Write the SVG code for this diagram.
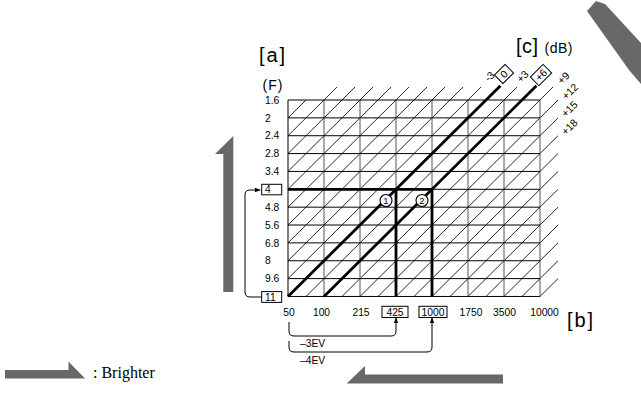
<svg xmlns="http://www.w3.org/2000/svg" width="641" height="401" viewBox="0 0 641 401">
<style>
text{font-family:"Liberation Sans",Arial,sans-serif;fill:#000}
.t{font-size:10.3px}
.big{font-size:20px}
.mid{font-size:14px}
.dl{font-size:10.5px}
.gh{stroke:#000;stroke-width:1;fill:none}
.gv{stroke:#555;stroke-width:1;fill:none}
.hatch{stroke:#000;stroke-width:0.85;fill:none}
.thick{stroke:#000;stroke-width:2.8;fill:none;stroke-linecap:butt}
.box{fill:#fff;stroke:#000;stroke-width:1}
.br{stroke:#000;stroke-width:1;fill:none}
.gray{fill:#686868}
</style>
<defs>
<marker id="ah" viewBox="0 0 8 8" refX="7" refY="4" markerWidth="6" markerHeight="6" orient="auto" markerUnits="userSpaceOnUse">
<path d="M0,1 L8,4 L0,7 Z" fill="#000"/>
</marker>
</defs>

<!-- big gray arrows -->
<g id="arrow-left"><polygon class="gray" points="233.3,136 215,154 223.3,154 223.3,292 233.3,292"/></g>
<g id="arrow-bottom"><polygon class="gray" points="346.7,383.5 365,366 365,374.5 503,374.5 503,383.5"/></g>
<g id="arrow-topright"><polygon class="gray" points="596,1 605,4 641,43 641,84 629,70 587,11"/></g>

<!-- hatch lines -->
<g id="hatch" class="hatch">
<path d="M288,117.86 L306,100 M288,135.72 L337.14,86.96 M288,153.58 L355.14,86.96 M288,171.44 L373.14,86.96 M288,189.3 L391.14,86.96 M288,207.16 L409.14,86.96 M288,225.02 L427.14,86.96 M288,242.88 L445.14,86.96 M288,260.74 L463.14,86.96 M288,278.6 L481.14,86.96 M306,296.46 L517.14,86.96 M342,296.46 L553.14,86.96 M360,296.46 L558,100 M378,296.46 L558,117.86 M396,296.46 L558,135.72 M414,296.46 L558,153.58 M432,296.46 L558,171.44 M450,296.46 L558,189.3 M468,296.46 L558,207.16 M486,296.46 L558,225.02 M504,296.46 L558,242.88 M522,296.46 L558,260.74 M540,296.46 L558,278.6"/>
</g>

<!-- grid -->
<g id="grid">
<path class="gv" d="M324,100 V296.46 M360,100 V296.46 M396,100 V296.46 M432,100 V296.46 M468,100 V296.46 M504,100 V296.46 M540,100 V296.46"/>
<path class="gh" d="M288,100 H540 M288,117.86 H540 M288,135.72 H540 M288,153.58 H540 M288,171.44 H540 M288,189.3 H540 M288,207.16 H540 M288,225.02 H540 M288,242.88 H540 M288,260.74 H540 M288,278.6 H540 M288,296.46 H540 M288,100 V296.46"/>
</g>

<!-- connectors: thick exposure lines and brackets -->
<g id="connectors">
<path class="thick" d="M288,296.46 L500.4,85.7"/>
<path class="thick" d="M324,296.46 L536.4,85.7"/>
<path class="thick" d="M288,189.3 H432 M396,189.3 V296.46 M432,189.3 V296.46"/>
<path class="br" d="M262,297 H250 Q245,297 245,292 V195 Q245,190 250,190 H260" marker-end="url(#ah)"/>
<path class="br" d="M289,322 V331 Q289,336 294,336 H391 Q396,336 396,331 V318" marker-end="url(#ah)"/>
<path class="br" d="M289,341 V347 Q289,352 294,352 H427 Q432,352 432,347 V318" marker-end="url(#ah)"/>
</g>

<!-- axis titles -->
<g id="title-a"><text class="big" x="259" y="62" textLength="26">[a]</text></g>
<g id="title-f"><text class="mid" x="262.5" y="89.5" textLength="20">(F)</text></g>
<g id="title-c"><text class="big" x="516" y="53" textLength="22">[c]</text><text class="mid" x="544.5" y="53" textLength="28">(dB)</text></g>
<g id="title-b"><text class="big" x="567" y="327" textLength="26">[b]</text></g>

<!-- F labels -->
<g id="f-labels">
<text class="t" x="265" y="103.6">1.6</text>
<text class="t" x="265" y="121.5">2</text>
<text class="t" x="265" y="139.3">2.4</text>
<text class="t" x="265" y="157.2">2.8</text>
<text class="t" x="265" y="175">3.4</text>
<text class="t" x="265" y="210.8">4.8</text>
<text class="t" x="265" y="228.6">5.6</text>
<text class="t" x="265" y="246.5">6.8</text>
<text class="t" x="265" y="264.3">8</text>
<text class="t" x="265" y="282.2">9.6</text>
</g>
<g id="f4"><rect class="box" x="261.7" y="184.3" width="20" height="10.5"/><text class="t" x="265" y="193.1">4</text></g>
<g id="f11"><rect class="box" x="261.7" y="291.6" width="20" height="10.8"/><text class="t" x="265" y="300.6">11</text></g>

<!-- b labels -->
<g id="b-labels">
<text class="t" x="289" y="316" text-anchor="middle">50</text>
<text class="t" x="321.5" y="316" text-anchor="middle">100</text>
<text class="t" x="361" y="316" text-anchor="middle">215</text>
<text class="t" x="471" y="316" text-anchor="middle">1750</text>
<text class="t" x="504.5" y="316" text-anchor="middle">3500</text>
<text class="t" x="544.5" y="316" text-anchor="middle">10000</text>
</g>
<g id="b425"><rect class="box" x="382" y="306.3" width="26" height="11.2"/><text class="t" x="395" y="316" text-anchor="middle">425</text></g>
<g id="b1000"><rect class="box" x="419" y="306.3" width="28" height="11.2"/><text class="t" x="433" y="316" text-anchor="middle">1000</text></g>

<!-- EV labels -->
<g id="ev3"><text class="t" x="300" y="347.3">–3EV</text></g>
<g id="ev4"><text class="t" x="300" y="364.3">–4EV</text></g>

<!-- dB labels -->
<g id="db-labels">
<text class="dl" transform="translate(489.5,76.5) rotate(-45)" text-anchor="middle" dy="3.6">-3</text>
<g id="db0" transform="translate(504,74) rotate(-45)"><rect class="box" x="-7.5" y="-6" width="15" height="12"/><text class="dl" text-anchor="middle" y="3.7">0</text></g>
<text class="dl" transform="translate(522.7,76.5) rotate(-45)" text-anchor="middle" dy="3.6">+3</text>
<g id="db6" transform="translate(541,75) rotate(-45)"><rect class="box" x="-9" y="-6" width="18" height="12"/><text class="dl" text-anchor="middle" y="3.7">+6</text></g>
<text class="dl" transform="translate(563.5,78) rotate(-45)" text-anchor="middle" dy="3.6">+9</text>
<text class="dl" transform="translate(570,91.5) rotate(-45)" text-anchor="middle" dy="3.6">+12</text>
<text class="dl" transform="translate(569.5,109) rotate(-45)" text-anchor="middle" dy="3.6">+15</text>
<text class="dl" transform="translate(569.5,127) rotate(-45)" text-anchor="middle" dy="3.6">+18</text>
</g>

<!-- circled markers -->
<g id="m1"><circle cx="386" cy="200.5" r="6" fill="#fff" stroke="#000" stroke-width="1.1"/><text x="386" y="203.8" text-anchor="middle" style="font-size:9.5px">1</text></g>
<g id="m2"><circle cx="422" cy="200.5" r="6" fill="#fff" stroke="#000" stroke-width="1.1"/><text x="422" y="203.8" text-anchor="middle" style="font-size:9.5px">2</text></g>

<!-- legend -->
<g id="legend">
<polygon class="gray" points="5,370 68.5,370 68.5,361.5 85,378.5 5,378.5"/>
<text x="93" y="378" style="font-family:'Liberation Serif','Times New Roman',serif;font-size:16px">: Brighter</text>
</g>
</svg>
